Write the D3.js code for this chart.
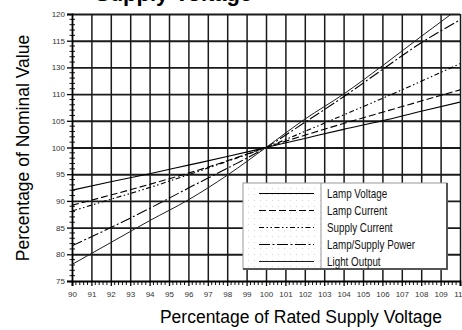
<!DOCTYPE html>
<html>
<head>
<meta charset="utf-8">
<script src="https://cdn.jsdelivr.net/npm/d3@7/dist/d3.min.js"></script>
<style>
  html, body { margin: 0; padding: 0; background: #fff; overflow: hidden; }
  svg { display: block; }
  text { font-family: "Liberation Sans", Arial, sans-serif; }
</style>
</head>
<body>
<svg id="chart" width="462" height="330"></svg>
<script>
// Supply voltage in percent of rated value
const supplyVoltage = [90, 92, 94, 96, 98, 100, 102, 104, 106, 108, 110];

// Response of each quantity, percent of nominal
const lampVoltage   = [92.0, 93.6, 95.1, 96.7, 98.3, 100, 101.7, 103.4, 105.0, 106.8, 108.5];
const lampCurrent   = [89.2, 91.1, 93.1, 95.2, 97.5, 100, 102.3, 104.5, 106.6, 108.7, 110.8];
const supplyCurrent = [88.1, 90.3, 92.5, 94.9, 97.4, 100, 103.0, 106.1, 109.2, 112.4, 115.7];
const lampPower     = [81.6, 85.0, 88.6, 92.4, 96.1, 100, 104.7, 109.5, 114.6, 119.6, 123.9];
const lightOutput   = [78.1, 82.2, 86.3, 90.2, 94.8, 100, 105.3, 110.0, 115.3, 120.8, 126.2];

const seriesNames = ["Lamp Voltage", "Lamp Current", "Supply Current", "Lamp/Supply Power", "Light Output"];

// Axis ticks and their printed labels
const xTickValues = [90, 91, 92, 93, 94, 95, 96, 97, 98, 99, 100, 101, 102, 103, 104, 105, 106, 107, 108, 109, 110];
const xTickLabels = ["90", "91", "92", "93", "94", "95", "96", "97", "98", "99", "100", "101", "102", "103", "104", "105", "106", "107", "108", "109", "110"];
const yTickValues = [75, 80, 85, 90, 95, 100, 105, 110, 115, 120, 125];
const yTickLabels = ["75", "80", "85", "90", "95", "100", "105", "110", "130", "115", "120"];

// Line styles per series
const styles = [
  { dash: null,                    color: "#000", width: 1.1 },
  { dash: "7,3",                   color: "#000", width: 1.1 },
  { dash: "5,2.5,1.5,2.5,1.5,2.5", color: "#000", width: 1.1 },
  { dash: "11,2.5,2,2.5",          color: "#000", width: 1.1 },
  { dash: null,                    color: "#1e1e1e", width: 1.0 }
];

const seriesValues = [lampVoltage, lampCurrent, supplyCurrent, lampPower, lightOutput];

const svg = d3.select("#chart");
const plot = { left: 72, right: 460, top: 14, bottom: 281 };

const x = d3.scaleLinear().domain([90, 110]).range([plot.left, plot.right]);
const y = d3.scaleLinear().domain([75, 125]).range([plot.bottom, plot.top]);

const defs = svg.append("defs");
defs.append("clipPath").attr("id", "plotClip")
  .append("rect")
  .attr("x", plot.left).attr("y", plot.top)
  .attr("width", plot.right - plot.left).attr("height", plot.bottom - plot.top);

const dots = defs.append("pattern").attr("id", "dots")
  .attr("width", 6).attr("height", 6).attr("patternUnits", "userSpaceOnUse");
dots.append("rect").attr("x", 2).attr("y", 2).attr("width", 1).attr("height", 1).attr("fill", "#f3c9de");

// Title (runs off the top edge)
svg.append("text")
  .attr("x", 95).attr("y", 0.5)
  .attr("font-size", 22).attr("font-weight", "bold")
  .attr("fill", "#000")
  .text("Supply Voltage");

// Grid
const gridV = svg.append("g")
  .attr("transform", `translate(0,${plot.bottom})`)
  .call(d3.axisBottom(x).tickValues(xTickValues.slice(1)).tickSize(-(plot.bottom - plot.top)).tickFormat(""));
gridV.select(".domain").remove();
gridV.selectAll("line").attr("stroke", "#1a1a1a").attr("stroke-width", 1.5);

const gridH = svg.append("g")
  .attr("transform", `translate(${plot.left},0)`)
  .call(d3.axisLeft(y).tickValues(yTickValues.slice(1)).tickSize(-(plot.right - plot.left)).tickFormat(""));
gridH.select(".domain").remove();
gridH.selectAll("line").attr("stroke", "#1a1a1a").attr("stroke-width", 1.9);

// Minor ticks
const minorY = d3.range(75, 126, 1).filter(v => v % 5 !== 0);
svg.append("g").selectAll("line").data(minorY).join("line")
  .attr("x1", plot.left - 2.5).attr("x2", plot.left + 3)
  .attr("y1", d => y(d)).attr("y2", d => y(d))
  .attr("stroke", "#111").attr("stroke-width", 1);

const minorX = d3.range(90, 110.01, 0.2).filter(v => Math.abs(v - Math.round(v)) > 0.01);
svg.append("g").selectAll("line").data(minorX).join("line")
  .attr("x1", d => x(d)).attr("x2", d => x(d))
  .attr("y1", plot.bottom).attr("y2", plot.bottom + 4)
  .attr("stroke", "#111").attr("stroke-width", 1);

// Axes
const yAxis = svg.append("g")
  .attr("transform", `translate(${plot.left},0)`)
  .call(d3.axisLeft(y).tickValues(yTickValues).tickSize(5).tickPadding(2)
    .tickFormat((d, i) => yTickLabels[i]));
yAxis.select(".domain").attr("stroke", "#000").attr("stroke-width", 1.8);
yAxis.selectAll(".tick line").attr("stroke", "#000").attr("stroke-width", 1.3);
yAxis.selectAll("text").attr("font-size", 8).attr("fill", "#333")
  .attr("font-family", "'Liberation Sans', Arial, sans-serif");

const xAxis = svg.append("g")
  .attr("transform", `translate(0,${plot.bottom})`)
  .call(d3.axisBottom(x).tickValues(xTickValues).tickSize(5).tickPadding(5)
    .tickFormat((d, i) => xTickLabels[i]));
xAxis.select(".domain").attr("stroke", "#000").attr("stroke-width", 1.9);
xAxis.selectAll(".tick line").attr("stroke", "#000").attr("stroke-width", 1.3);
xAxis.selectAll("text").attr("font-size", 8).attr("fill", "#333")
  .attr("font-family", "'Liberation Sans', Arial, sans-serif");

// Axis titles
svg.append("text")
  .attr("transform", `translate(29,148) rotate(-90)`)
  .attr("text-anchor", "middle")
  .attr("font-size", 17.5).attr("fill", "#000")
  .text("Percentage of Nominal Value");

svg.append("text")
  .attr("x", 301).attr("y", 323)
  .attr("text-anchor", "middle")
  .attr("font-size", 17.5).attr("fill", "#000")
  .text("Percentage of Rated Supply Voltage");

// Series lines
const line = d3.line()
  .x((d, i) => x(supplyVoltage[i]))
  .y(d => y(d))
  .curve(d3.curveMonotoneX);

svg.append("g").attr("clip-path", "url(#plotClip)")
  .selectAll("path").data(seriesValues).join("path")
  .attr("d", d => line(d))
  .attr("fill", "none")
  .attr("stroke", (d, i) => styles[i].color)
  .attr("stroke-width", (d, i) => styles[i].width)
  .attr("stroke-dasharray", (d, i) => styles[i].dash);

// Legend
const lg = { x: 243, y: 183, w: 204, h: 86, split: 78, row0: 193.5, rowStep: 17 };
const legend = svg.append("g");
legend.append("rect")
  .attr("x", lg.x).attr("y", lg.y).attr("width", lg.w).attr("height", lg.h)
  .attr("fill", "#fff").attr("stroke", "#9a9a9a").attr("stroke-width", 1);
legend.append("rect")
  .attr("x", lg.x + 1).attr("y", lg.y + 1).attr("width", lg.split - 1).attr("height", lg.h - 2)
  .attr("fill", "url(#dots)");
legend.append("line")
  .attr("x1", lg.x + lg.split).attr("x2", lg.x + lg.split)
  .attr("y1", lg.y).attr("y2", lg.y + lg.h)
  .attr("stroke", "#9a9a9a").attr("stroke-width", 1);
legend.append("path")
  .attr("d", `M${lg.x + lg.w},${lg.y} V${lg.y + lg.h} H${lg.x}`)
  .attr("fill", "none").attr("stroke", "#555").attr("stroke-width", 2);

const rows = legend.selectAll("g.row").data(seriesNames).join("g")
  .attr("class", "row")
  .attr("transform", (d, i) => `translate(0,${lg.row0 + i * lg.rowStep})`);
rows.append("line")
  .attr("x1", lg.x + 16).attr("x2", lg.x + 71)
  .attr("y1", 0).attr("y2", 0)
  .attr("stroke", (d, i) => styles[i].color)
  .attr("stroke-width", 1.2)
  .attr("stroke-dasharray", (d, i) => styles[i].dash);
rows.append("text")
  .attr("transform", `translate(${lg.x + 84},0) scale(0.82,1)`)
  .attr("dy", "0.36em")
  .attr("font-size", 12).attr("fill", "#111")
  .text(d => d);
</script>
</body>
</html>
